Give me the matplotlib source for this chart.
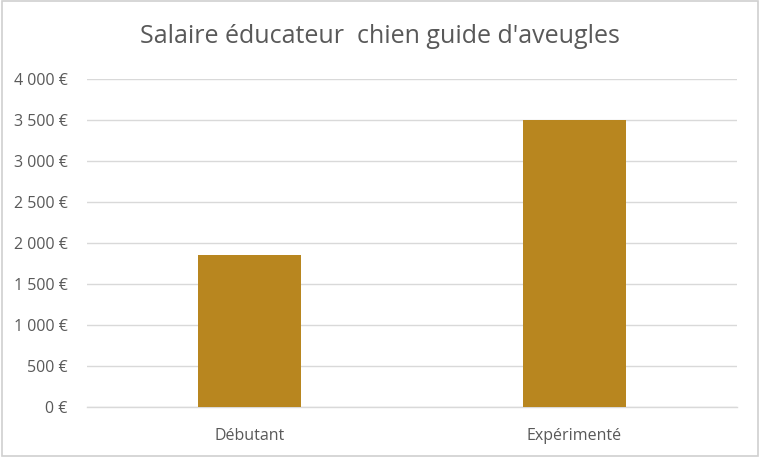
import matplotlib
matplotlib.use("Agg")
import matplotlib.pyplot as plt
from matplotlib.patches import Rectangle
from matplotlib.ticker import FuncFormatter

categories = ["Débutant", "Expérimenté"]
salaries = [1850, 3500]
y_ticks = [0, 500, 1000, 1500, 2000, 2500, 3000, 3500, 4000]

BAR_COLOR = "#B8861F"
TEXT_COLOR = "#595959"
GRID_COLOR = "#D9D9D9"

plt.rcParams["font.family"] = ["Open Sans", "DejaVu Sans"]


def euro(v, pos):
    # French style thousand separator
    return "{:,.0f} €".format(v).replace(",", " ")


fig = plt.figure(figsize=(7.6, 4.57), dpi=100)
ax = fig.add_axes([0.1145, 0.1094, 0.855, 0.7177])

x = range(len(categories))
ax.bar(x, salaries, width=0.315, color=BAR_COLOR, zorder=3)

ax.set_xlim(-0.5, len(categories) - 0.5)
ax.set_ylim(0, 4000)
ax.set_yticks(y_ticks)
ax.yaxis.set_major_formatter(FuncFormatter(euro))
ax.set_xticks(list(x))
ax.set_xticklabels(categories)

ax.grid(axis="y", color=GRID_COLOR, linewidth=1, zorder=0)
ax.axhline(0, color=GRID_COLOR, linewidth=1, zorder=2, clip_on=False)
for side in ["top", "right", "left", "bottom"]:
    ax.spines[side].set_visible(False)
ax.tick_params(axis="both", length=0, colors=TEXT_COLOR, labelsize=11.5)
ax.tick_params(axis="y", pad=14)
ax.tick_params(axis="x", pad=15)

fig.text(0.5, 0.921, "Salaire éducateur  chien guide d'aveugles",
         ha="center", va="center", fontsize=18, color=TEXT_COLOR)

# light border around the chart area
fig.patches.append(Rectangle((0.002, 0.003), 0.996, 0.994, transform=fig.transFigure,
                             fill=False, edgecolor="#D0D0D0", linewidth=1.2))

fig.savefig("out.png", dpi=100)
